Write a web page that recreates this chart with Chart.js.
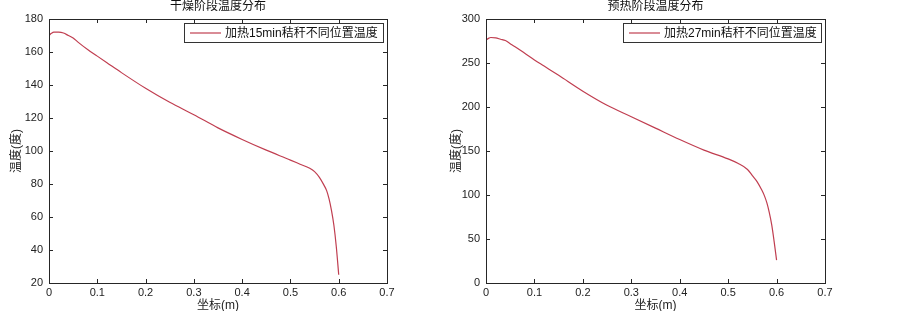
<!DOCTYPE html>
<html>
<head>
<meta charset="utf-8">
<script src="https://cdn.jsdelivr.net/npm/chart.js@4"></script>
<style>
  body { margin: 0; background: #fff; }
  #wrap { position: relative; width: 903px; height: 311px; }
  canvas { position: absolute; top: 0; }
</style>
</head>
<body>
<div id="wrap">
  <canvas id="left" width="400" height="311" style="left:0"></canvas>
  <canvas id="right" width="463" height="311" style="left:440px"></canvas>
</div>
<script>
// positions along the stalk (m)
const positions = [0, 0.005, 0.01, 0.02, 0.03, 0.04, 0.05, 0.06, 0.08, 0.1, 0.12, 0.15, 0.2, 0.25, 0.3,
  0.35, 0.4, 0.45, 0.5, 0.52, 0.54, 0.55, 0.56, 0.57, 0.575, 0.58, 0.585, 0.59, 0.595, 0.6];

// drying stage, 15 min
const temp15 = [170, 171.3, 172, 172, 171.5, 170, 168.5, 166, 161.5, 157.5, 153.5, 147.5, 138, 129.5, 122,
  114, 107, 100.5, 94.5, 92, 89.5, 87.5, 84, 79, 76, 71, 64, 55, 42, 25];

// preheating stage, 27 min
const temp27 = [276, 278, 279, 278.5, 277, 275.5, 272, 268.5, 261, 253.5, 246.5, 236, 218, 202, 189,
  176, 163, 151, 141, 136, 129, 122, 115, 105, 99, 91, 80, 66, 47, 26];

const xTicks = [0, 0.1, 0.2, 0.3, 0.4, 0.5, 0.6, 0.7];
const yTicksLeft = [20, 40, 60, 80, 100, 120, 140, 160, 180];
const yTicksRight = [0, 50, 100, 150, 200, 250, 300];

const FONT = "'Liberation Sans', 'Noto Sans CJK SC', Arial, sans-serif";
const LINE = 'rgb(192, 62, 80)';

// box + inward ticks on all four sides, title and legend inside the axes
const matlabAxes = {
  id: 'matlabAxes',
  afterDraw(chart, args, opts) {
    const { ctx, chartArea: a, scales: { x, y } } = chart;
    ctx.save();
    ctx.strokeStyle = '#262626';
    ctx.lineWidth = 1;
    ctx.strokeRect(a.left + 0.5, a.top + 0.5, a.right - a.left, a.bottom - a.top);
    ctx.beginPath();
    x.ticks.forEach(t => {
      const px = Math.round(x.getPixelForValue(t.value)) + 0.5;
      ctx.moveTo(px, a.bottom); ctx.lineTo(px, a.bottom - 4);
      ctx.moveTo(px, a.top); ctx.lineTo(px, a.top + 4);
    });
    y.ticks.forEach(t => {
      const py = Math.round(y.getPixelForValue(t.value)) + 0.5;
      ctx.moveTo(a.left, py); ctx.lineTo(a.left + 4, py);
      ctx.moveTo(a.right, py); ctx.lineTo(a.right - 4, py);
    });
    ctx.stroke();

    // title
    ctx.fillStyle = '#111';
    ctx.font = '12px ' + FONT;
    ctx.textAlign = 'center';
    ctx.textBaseline = 'middle';
    ctx.fillText(opts.title, (a.left + a.right) / 2, 7);

    // legend
    const lx = opts.legendLeft, ly = a.top + 4, lw = a.right - 4 - opts.legendLeft, lh = 19;
    ctx.fillStyle = '#fff';
    ctx.fillRect(lx, ly, lw, lh);
    ctx.strokeStyle = '#333';
    ctx.strokeRect(lx + 0.5, ly + 0.5, lw, lh);
    ctx.strokeStyle = LINE;
    ctx.lineWidth = 1.2;
    ctx.beginPath();
    ctx.moveTo(lx + 6, ly + 10); ctx.lineTo(lx + 37, ly + 10);
    ctx.stroke();
    ctx.fillStyle = '#111';
    ctx.textAlign = 'left';
    ctx.font = '12px ' + FONT;
    ctx.fillText(opts.label, lx + 41, ly + 10.5);
    ctx.restore();
  }
};

function makeChart(id, label, temps, yMin, yMax, yTicks, axisW, rightPad, title, legendLeft) {
  const points = positions.map((p, i) => ({ x: p, y: temps[i] }));
  return new Chart(document.getElementById(id), {
    type: 'line',
    data: {
      datasets: [{
        label: label,
        data: points,
        borderColor: LINE,
        borderWidth: 1.2,
        pointRadius: 0,
        cubicInterpolationMode: 'monotone',
        fill: false,
      }],
    },
    options: {
      responsive: false,
      animation: false,
      devicePixelRatio: 1,
      layout: { padding: { top: 19, right: rightPad, left: 0, bottom: 0 } },
      plugins: {
        legend: { display: false },
        tooltip: { enabled: false },
        matlabAxes: { title: title, label: label, legendLeft: legendLeft },
      },
      scales: {
        x: {
          type: 'linear',
          min: 0,
          max: 0.7,
          afterFit: s => { s.height = 28; },
          afterBuildTicks: s => { s.ticks = xTicks.map(v => ({ value: v })); },
          grid: { display: false, drawTicks: false },
          border: { display: false },
          ticks: {
            padding: 3,
            color: '#222',
            font: { family: FONT, size: 11 },
            callback: v => String(v),
          },
          title: {
            display: true,
            text: '坐标(m)',
            color: '#222',
            font: { family: FONT, size: 12 },
            padding: { top: 0, bottom: -2 },
          },
        },
        y: {
          min: yMin,
          max: yMax,
          afterFit: s => { s.width = axisW; },
          afterBuildTicks: s => { s.ticks = yTicks.map(v => ({ value: v })); },
          grid: { display: false, drawTicks: false },
          border: { display: false },
          ticks: {
            padding: 6,
            color: '#222',
            font: { family: FONT, size: 11 },
          },
          title: {
            display: true,
            text: '温度(度)',
            color: '#222',
            font: { family: FONT, size: 12 },
            padding: { top: 9, bottom: 0 },
          },
        },
      },
    },
    plugins: [matlabAxes],
  });
}

makeChart('left', '加热15min秸秆不同位置温度', temp15, 20, 180, yTicksLeft, 49, 13, '干燥阶段温度分布', 184);
makeChart('right', '加热27min秸秆不同位置温度', temp27, 0, 300, yTicksRight, 46, 78, '预热阶段温度分布', 183);
</script>
</body>
</html>
